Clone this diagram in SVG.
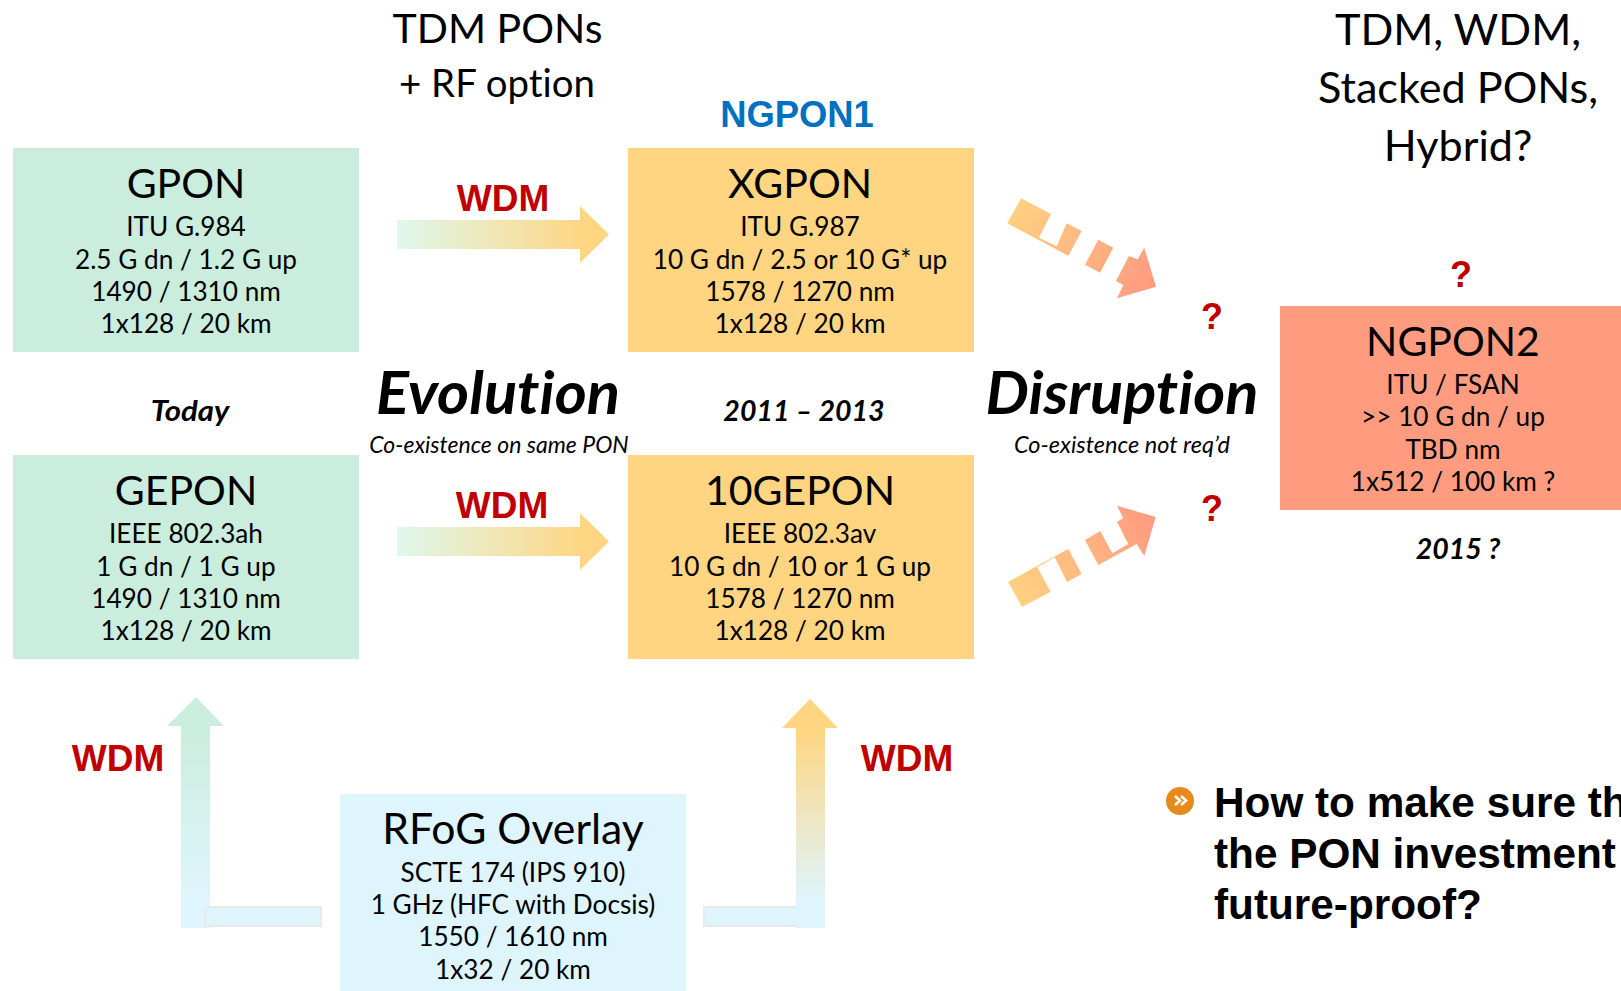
<svg xmlns="http://www.w3.org/2000/svg" width="1621" height="991" viewBox="0 0 1621 991">
<style>
text{font-family:"Lato","Carlito","Noto Sans",sans-serif;fill:#000;text-anchor:middle;font-variant-ligatures:none}
.b{font-size:26.2px}.h{font-size:41px}.h3{font-size:43.2px}.h2{font-size:38.4px}.h4{font-size:42.7px}
.e{font-size:59px;font-weight:700;font-style:italic}
.s{font-size:23px;font-style:italic}
.d{font-size:28.500px;font-weight:700;font-style:italic}
.w{font-family:"Liberation Sans",Arial,sans-serif;font-weight:700;font-size:37px;fill:#C00000}
.q{font-family:"Liberation Sans",Arial,sans-serif;font-weight:700;font-size:36px;fill:#C00000}
.n{font-family:"Liberation Sans",Arial,sans-serif;font-weight:700;font-size:36.400px;fill:#0070C0}
.p{font-family:"Liberation Sans",Arial,sans-serif;font-weight:700;font-size:42.300px;text-anchor:start}
.green{fill:#CBEDDD}.orange{fill:#FFD581}.red{fill:#FF9C80}.blue{fill:#DFF5FD}
.stub{fill:#DFF5FD;stroke:#E9E9E9;stroke-width:2}
</style>
<defs>
<linearGradient id="gh" x1="397" y1="0" x2="609" y2="0" gradientUnits="userSpaceOnUse"><stop offset="0" stop-color="#DFF8EC"/><stop offset="0.9" stop-color="#FFD581"/></linearGradient>
<linearGradient id="gl" x1="0" y1="726" x2="0" y2="900" gradientUnits="userSpaceOnUse"><stop offset="0" stop-color="#CBEDDD"/><stop offset="1" stop-color="#DFF5FD"/></linearGradient>
<linearGradient id="gr" x1="0" y1="728" x2="0" y2="900" gradientUnits="userSpaceOnUse"><stop offset="0" stop-color="#FFD581"/><stop offset="1" stop-color="#DFF5FD"/></linearGradient>
<linearGradient id="gd1" x1="1005" y1="200" x2="1150" y2="280" gradientUnits="userSpaceOnUse"><stop offset="0" stop-color="#FFD581"/><stop offset="1" stop-color="#FF9C80"/></linearGradient>
<linearGradient id="gd2" x1="1005" y1="600" x2="1150" y2="520" gradientUnits="userSpaceOnUse"><stop offset="0" stop-color="#FFD581"/><stop offset="1" stop-color="#FF9C80"/></linearGradient>
</defs>

<g id="connectors">
<path fill="url(#gh)" d="M397 220H580V206L609 234.500L580 263V249H397Z"/>
<path fill="url(#gh)" d="M397 527H580V513L609 541.500L580 570V556H397Z"/>
<path fill="url(#gl)" d="M181 928V726H167L196 697L224 726H210V928Z"/>
<rect class="stub" x="205" y="907" width="116" height="19"/>
<rect class="stub" x="704" y="907" width="94" height="19"/>
<path fill="url(#gr)" d="M796 928V728H782L810 699L838 728H825V928Z"/>
<g fill="url(#gd1)">
<path d="M1007.300 223.300L1021 198.300L1051 214L1039 237.700L1056.700 246.300L1066.700 223.300L1081.700 231L1068.300 255.700Z"/>
<path d="M1098.300 239.700L1113.300 247.700L1100 272.700L1085 264.700Z"/>
<path d="M1144.300 247.700L1156 286.700L1117 298.300L1123.300 285L1116 281L1129 256L1137.700 259.300Z"/>
</g>
<g fill="url(#gd2)">
<path d="M1008 582L1068.300 549L1081.700 574L1067 582L1054.700 557.300L1037.300 567.300L1050.700 591.700L1022 607Z"/>
<path d="M1085 540L1100.300 531L1112.300 553.300L1128.300 544L1117 521.700L1123.300 518.300L1117 505.700L1155.700 517L1144.300 556L1136.700 544L1098.300 565Z"/>
</g>
</g>

<g id="gpon"><rect class="green" x="13" y="148" width="346" height="204"/>
<text class="h" x="186" y="198">GPON</text><text class="b" x="186" y="236">ITU G.984</text><text class="b" x="186" y="269">2.5 G dn / 1.2 G up</text><text class="b" x="186" y="301">1490 / 1310 nm</text><text class="b" x="186" y="333">1x128 / 20 km</text></g>
<g id="gepon"><rect class="green" x="13" y="455" width="346" height="204"/>
<text class="h" x="186" y="505">GEPON</text><text class="b" x="186" y="543">IEEE 802.3ah</text><text class="b" x="186" y="576">1 G dn / 1 G up</text><text class="b" x="186" y="608">1490 / 1310 nm</text><text class="b" x="186" y="640">1x128 / 20 km</text></g>
<g id="xgpon"><rect class="orange" x="628" y="148" width="346" height="204"/>
<text class="h" x="800" y="198">XGPON</text><text class="b" x="800" y="236">ITU G.987</text><text class="b" x="800" y="269">10 G dn / 2.5 or 10 G* up</text><text class="b" x="800" y="301">1578 / 1270 nm</text><text class="b" x="800" y="333">1x128 / 20 km</text></g>
<g id="tengepon"><rect class="orange" x="628" y="455" width="346" height="204"/>
<text class="h" x="800" y="505">10GEPON</text><text class="b" x="800" y="543">IEEE 802.3av</text><text class="b" x="800" y="576">10 G dn / 10 or 1 G up</text><text class="b" x="800" y="608">1578 / 1270 nm</text><text class="b" x="800" y="640">1x128 / 20 km</text></g>
<g id="ngpon2"><rect class="red" x="1280" y="306" width="341" height="204"/>
<text class="h" x="1453" y="356">NGPON2</text><text class="b" x="1453" y="394">ITU / FSAN</text><text class="b" x="1453" y="426">&gt;&gt; 10 G dn / up</text><text class="b" x="1453" y="459">TBD nm</text><text class="b" x="1453" y="491">1x512 / 100 km ?</text></g>
<g id="rfog"><rect class="blue" x="340" y="794" width="346" height="197"/>
<text class="h4" x="513" y="844">RFoG Overlay</text><text class="b" x="513" y="882">SCTE 174 (IPS 910)</text><text class="b" x="513" y="914">1 GHz (HFC with Docsis)</text><text class="b" x="513" y="946">1550 / 1610 nm</text><text class="b" x="513" y="979">1x32 / 20 km</text></g>

<g id="labels">
<text class="h" x="497.500" y="43">TDM PONs</text>
<text class="h2" x="497" y="97">+ RF option</text>
<text class="h3" x="1458" y="45">TDM, WDM,</text>
<text class="h3" x="1458" y="103">Stacked PONs,</text>
<text class="h3" x="1458" y="161">Hybrid?</text>
<text class="n" x="797" y="127">NGPON1</text>
<text class="w" x="503" y="211">WDM</text>
<text class="w" x="502" y="518">WDM</text>
<text class="w" x="118" y="771">WDM</text>
<text class="w" x="907" y="771">WDM</text>
<text class="q" x="1212" y="329">?</text>
<text class="q" x="1212" y="521">?</text>
<text class="q" x="1461" y="287">?</text>
<text class="d" x="190" y="421" textLength="78.600" lengthAdjust="spacingAndGlyphs">Today</text>
<text class="d" x="804" y="421">2011 – 2013</text>
<text class="d" x="1458" y="559">2015 ?</text>
<text class="e" x="498" y="414" textLength="244" lengthAdjust="spacingAndGlyphs">Evolution</text>
<text class="s" x="499" y="453">Co-existence on same PON</text>
<text class="e" x="1122" y="414" textLength="273" lengthAdjust="spacingAndGlyphs">Disruption</text>
<text class="s" x="1122" y="453" textLength="216" lengthAdjust="spacingAndGlyphs">Co-existence not req’d</text>
</g>

<g id="note">
<circle cx="1180" cy="801" r="14" fill="#E68A1C"/>
<path d="M1175 796l5 4.500-5 4.500M1181 796l5 4.500-5 4.500" fill="none" stroke="#fff" stroke-width="2.500"/>
<text class="p" x="1214" y="817">How to make sure th</text>
<text class="p" x="1214" y="868">the PON investment</text>
<text class="p" x="1214" y="919">future-proof?</text>
</g>
</svg>
